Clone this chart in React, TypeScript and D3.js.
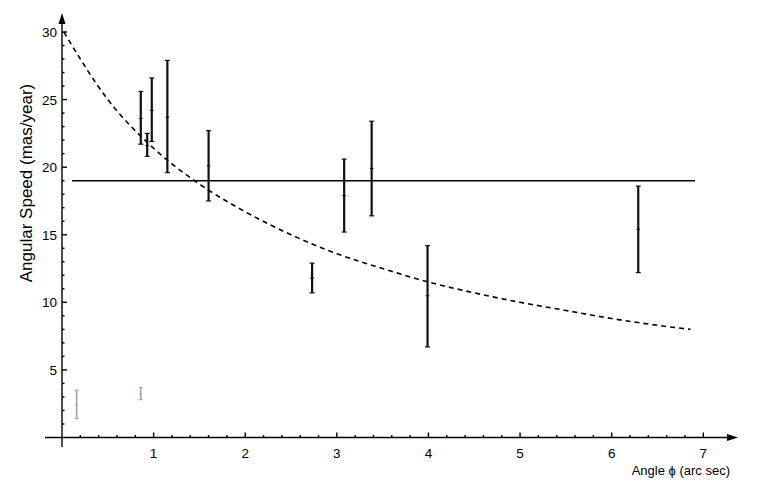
import * as d3 from "d3";

// error bars: x, centre, low, high
const blackX = [0.86, 0.93, 0.98, 1.15, 1.6, 2.73, 3.08, 3.38, 3.99, 6.29];
const blackMid = [23.6, 21.6, 24.2, 23.7, 20.1, 11.8, 17.9, 19.9, 10.5, 15.4];
const blackLo = [21.7, 20.8, 21.9, 19.6, 17.5, 10.7, 15.2, 16.4, 6.7, 12.2];
const blackHi = [25.6, 22.5, 26.6, 27.9, 22.7, 12.9, 20.6, 23.4, 14.2, 18.6];

const greyX = [0.16, 0.86];
const greyMid = [2.4, 3.2];
const greyLo = [1.4, 2.8];
const greyHi = [3.5, 3.7];

// mean level and the dashed curve
const meanLevel = 19.0;
const meanFrom = 0.11;
const meanTo = 6.91;
const curveX = [0.02, 0.5, 1, 1.5, 2, 2.5, 3, 3.5, 4, 4.5, 5, 5.5, 6, 6.5, 6.86];
const curveY = [30, 25, 21.4, 18.75, 16.7, 15, 13.6, 12.5, 11.5, 10.7, 10, 9.4, 8.8, 8.3, 8.0];

const xTicks = [1, 2, 3, 4, 5, 6, 7];
const yTicks = [5, 10, 15, 20, 25, 30];

const font = "'Liberation Sans', Arial, Helvetica, sans-serif";

const App = () => {
  const width = 771, height = 496;
  const x = d3.scaleLinear().domain([0, 7]).range([62, 703.3]);
  const y = d3.scaleLinear().domain([0, 30]).range([437.5, 32]);

  const x0 = x(0), y0 = y(0);
  const xMinor = d3.range(1, 35).map((i) => i * 0.2).filter((v) => Math.abs(v - Math.round(v)) > 0.01);
  const yMinor = d3.range(1, 31).filter((v) => v % 5 !== 0);

  const curve = d3.line<number>()
    .x((d, i) => x(curveX[i]))
    .y((d, i) => y(d))
    .curve(d3.curveMonotoneX)(curveY);

  const bars = (xs, mids, los, his, color, sw, cap) =>
    xs.map((xv, i) => (
      <g key={i} stroke={color} strokeWidth={sw}>
        <line x1={x(xv)} x2={x(xv)} y1={y(los[i])} y2={y(his[i])} />
        <line x1={x(xv) - cap} x2={x(xv) + cap} y1={y(his[i])} y2={y(his[i])} strokeWidth={1.2} />
        <line x1={x(xv) - cap} x2={x(xv) + cap} y1={y(los[i])} y2={y(los[i])} strokeWidth={1.2} />
        <line x1={x(xv) - cap * 0.7} x2={x(xv) + cap * 0.7} y1={y(mids[i])} y2={y(mids[i])} strokeWidth={1.2} />
      </g>
    ));

  return (
    <svg width={width} height={height} style={{ position: "absolute", left: 0, top: 0, background: "#fff" }}>
      {/* axes */}
      <g stroke="#000" strokeWidth={1.4}>
        <line x1={45} x2={730} y1={y0} y2={y0} />
        <line x1={x0} x2={x0} y1={447} y2={22} />
        {xTicks.map((t) => (
          <line key={t} x1={x(t)} x2={x(t)} y1={y0} y2={y0 - 5} />
        ))}
        {xMinor.map((t) => (
          <line key={t} x1={x(t)} x2={x(t)} y1={y0} y2={y0 - 2.5} />
        ))}
        {yTicks.map((t) => (
          <line key={t} x1={x0} x2={x0 + 5} y1={y(t)} y2={y(t)} />
        ))}
        {yMinor.map((t) => (
          <line key={t} x1={x0} x2={x0 + 2.5} y1={y(t)} y2={y(t)} />
        ))}
      </g>
      <path d={`M${x0},13 L${x0 - 3.5},24 L${x0 + 3.5},24 Z`} fill="#000" />
      <path d={`M738,${y0} L727,${y0 - 3.5} L727,${y0 + 3.5} Z`} fill="#000" />

      {/* tick labels */}
      <g fontFamily={font} fontSize={13.5} fill="#000">
        {xTicks.map((t) => (
          <text key={t} x={x(t)} y={458} textAnchor="middle">{t}</text>
        ))}
        {yTicks.map((t) => (
          <text key={t} x={57} y={y(t) + 5} textAnchor="end">{t}</text>
        ))}
      </g>
      <text x={730} y={475} textAnchor="end" fontFamily={font} fontSize={13} fill="#000">Angle ϕ (arc sec)</text>
      <text transform="translate(32,183) rotate(-90)" textAnchor="middle" fontFamily={font} fontSize={17} fill="#000">
        Angular Speed (mas/year)
      </text>

      {/* mean line and curve */}
      <line x1={x(meanFrom)} x2={x(meanTo)} y1={y(meanLevel)} y2={y(meanLevel)} stroke="#000" strokeWidth={1.6} />
      <path d={curve} fill="none" stroke="#000" strokeWidth={1.6} strokeDasharray="5,4" />

      {bars(greyX, greyMid, greyLo, greyHi, "#9eaaa8", 1.6, 2)}
      {bars(blackX, blackMid, blackLo, blackHi, "#111", 2.2, 2.5)}
    </svg>
  );
};

export default App;
